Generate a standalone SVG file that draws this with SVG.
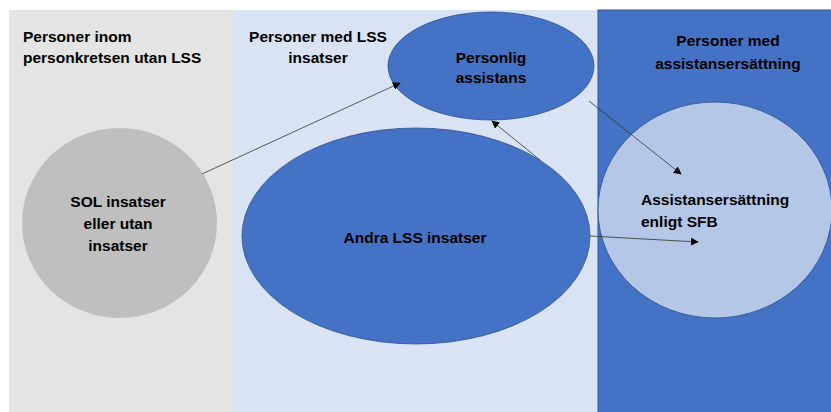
<svg xmlns="http://www.w3.org/2000/svg" width="831" height="412" viewBox="0 0 831 412">
<defs>
<style>
.t{font-family:"Liberation Sans",Arial,sans-serif;font-weight:bold;font-size:15.5px;fill:#000}
.c{text-anchor:middle}
.e{stroke:#2f528f;stroke-width:0.8}
.cn{stroke:#333;stroke-width:0.8;fill:none;marker-end:url(#ah)}
</style>
<marker id="ah" viewBox="0 0 10 10" refX="9" refY="5" markerWidth="8" markerHeight="8" markerUnits="userSpaceOnUse" orient="auto">
<path d="M0,0 L10,5 L0,10 z" fill="#000"/>
</marker>
</defs>
<rect width="831" height="412" fill="#fff"/>
<g id="panel-utan">
<rect x="9" y="10" width="225" height="402" fill="#e4e4e4"/>
<text class="t" x="23" y="42">Personer inom</text>
<text class="t" x="23" y="63">personkretsen utan LSS</text>
</g>
<g id="panel-lss">
<rect x="234" y="10" width="364" height="402" fill="#dae3f3"/>
<text class="t c" x="318" y="42">Personer med LSS</text>
<text class="t c" x="318" y="63">insatser</text>
</g>
<g id="panel-ass">
<rect x="598" y="10" width="234" height="403" fill="#4472c4" stroke="#2f528f" stroke-width="1"/>
<text class="t c" x="728" y="46">Personer med</text>
<text class="t c" x="728" y="69">assistansersättning</text>
</g>
<g id="node-sol">
<ellipse cx="119.5" cy="223" rx="97.5" ry="95" fill="#bfbfbf"/>
<text class="t c" x="118" y="207">SOL insatser</text>
<text class="t c" x="118" y="229">eller utan</text>
<text class="t c" x="118" y="251">insatser</text>
</g>
<g id="node-personlig">
<ellipse cx="491" cy="66" rx="103" ry="54" fill="#4472c4" class="e"/>
<text class="t c" x="491" y="62.5">Personlig</text>
<text class="t c" x="491" y="83">assistans</text>
</g>
<g id="node-andra">
<ellipse cx="416" cy="236" rx="174" ry="108" fill="#4472c4" class="e"/>
<text class="t c" x="415" y="243">Andra LSS insatser</text>
</g>
<g id="node-sfb">
<ellipse cx="715" cy="210" rx="117" ry="108" fill="#b4c7e7" class="e"/>
<text class="t" x="641" y="205">Assistansersättning</text>
<text class="t" x="641" y="227">enligt SFB</text>
</g>
<g id="connectors">
<line class="cn" x1="202" y1="174" x2="400" y2="83"/>
<line class="cn" x1="540" y1="160" x2="492" y2="121"/>
<line class="cn" x1="589" y1="101" x2="681" y2="174"/>
<line class="cn" x1="590" y1="236" x2="698" y2="242"/>
</g>
</svg>
